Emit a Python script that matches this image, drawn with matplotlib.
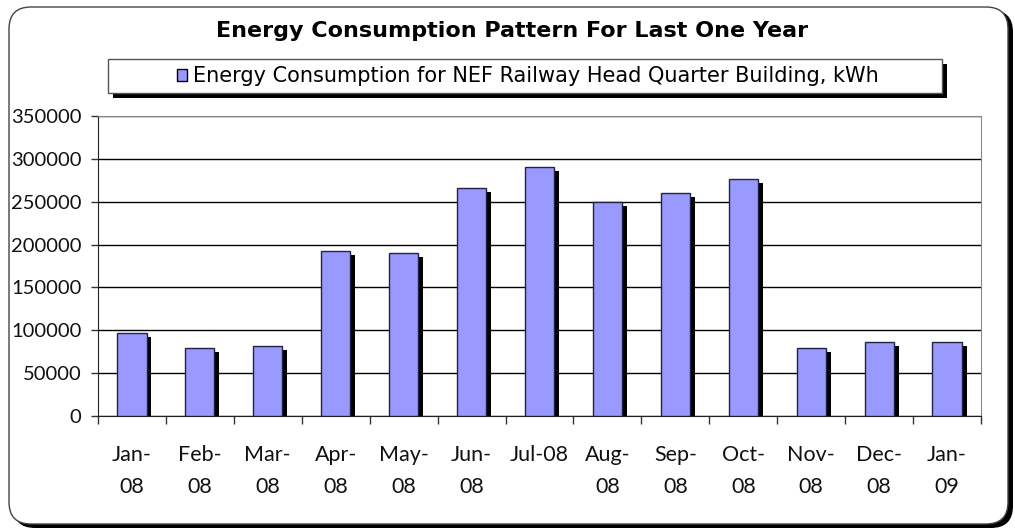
import matplotlib
matplotlib.use('Agg')
import matplotlib.pyplot as plt
import matplotlib.patheffects as pe
from matplotlib.patches import FancyBboxPatch, Rectangle
from matplotlib.transforms import IdentityTransform

# datos
meses = ["Jan-\n08", "Feb-\n08", "Mar-\n08", "Apr-\n08", "May-\n08", "Jun-\n08", "Jul-08",
         "Aug-\n08", "Sep-\n08", "Oct-\n08", "Nov-\n08", "Dec-\n08", "Jan-\n09"]
consumo = [96500, 79700, 82000, 192900, 190200, 266300, 290900,
           250000, 260500, 276500, 79700, 86000, 86000]
yticks = [0, 50000, 100000, 150000, 200000, 250000, 300000, 350000]

titulo = "Energy Consumption Pattern For Last One Year"
serie = "Energy Consumption for NEF Railway Head Quarter Building, kWh"

plt.rcParams['font.family'] = ['Lato', 'DejaVu Sans']

W, H = 1015, 529
fig = plt.figure(figsize=(W / 100, H / 100), dpi=100)

# marco redondeado con sombra
px = IdentityTransform()
sombra = FancyBboxPatch((13, 1), 1000, 518, boxstyle="round,pad=0,rounding_size=22",
                        transform=px, facecolor='black', edgecolor='none', zorder=0)
marco = FancyBboxPatch((9, 5), 999, 517, boxstyle="round,pad=0,rounding_size=22",
                       transform=px, facecolor='white', edgecolor='#444444', linewidth=1, zorder=1)
fig.patches.extend([sombra, marco])

ax = fig.add_axes([98 / W, (H - 416) / H, 883 / W, 300 / H])
ax.set_zorder(2)
ax.patch.set_alpha(0)

x = [i + 0.5 for i in range(len(consumo))]
barras = ax.bar(x, consumo, width=0.43, color='#9999FF', edgecolor='#222244', linewidth=1, zorder=3)
for b in barras:
    b.set_path_effects([pe.SimplePatchShadow(offset=(3.5, -2.8), shadow_rgbFace='black', alpha=1.0),
                        pe.Normal()])

ax.set_xlim(0, len(consumo))
ax.set_ylim(0, 350000)
ax.set_yticks(yticks)
ax.set_yticklabels([str(v) for v in yticks])
ax.yaxis.grid(True, color='black', linewidth=1)
ax.set_axisbelow(True)

ax.set_xticks(range(len(consumo) + 1))
ax.set_xticklabels([])
ax.set_xticks(x, minor=True)
ax.set_xticklabels(meses, minor=True, linespacing=1.75)
ax.tick_params(axis='x', which='major', direction='out', length=6, width=1, color='#333333')
ax.tick_params(axis='x', which='minor', length=0, pad=21, labelsize=15.5, colors='#111111')
ax.tick_params(axis='y', direction='out', length=5, width=1, pad=7, labelsize=14.5,
               colors='#333333', labelcolor='#111111')

ax.spines['top'].set_color('#888888')
ax.spines['right'].set_color('#888888')
ax.spines['left'].set_color('#222222')
ax.spines['bottom'].set_color('#222222')

fig.text(512 / W, 1 - 31 / H, titulo, ha='center', va='center', fontsize=16,
         fontweight='bold', family='DejaVu Sans')

# caja de leyenda con sombra
fig.patches.append(Rectangle((113, H - 98), 834, 34, transform=px, facecolor='black',
                             edgecolor='none', zorder=2))
fig.patches.append(Rectangle((108, H - 93), 834, 34, transform=px, facecolor='white',
                             edgecolor='#555555', linewidth=1, zorder=3))
leg = fig.legend([barras], [serie], loc='center', bbox_to_anchor=(528 / W, 1 - 76 / H),
                 frameon=False, prop={'family': 'DejaVu Sans', 'size': 15},
                 handlelength=0.5, handleheight=0.5, handletextpad=0.3, borderpad=0)
leg.set_zorder(4)
leg.legend_handles[0].set_path_effects([])
leg.legend_handles[0].set_edgecolor('black')

fig.savefig('out.png', dpi=100)
